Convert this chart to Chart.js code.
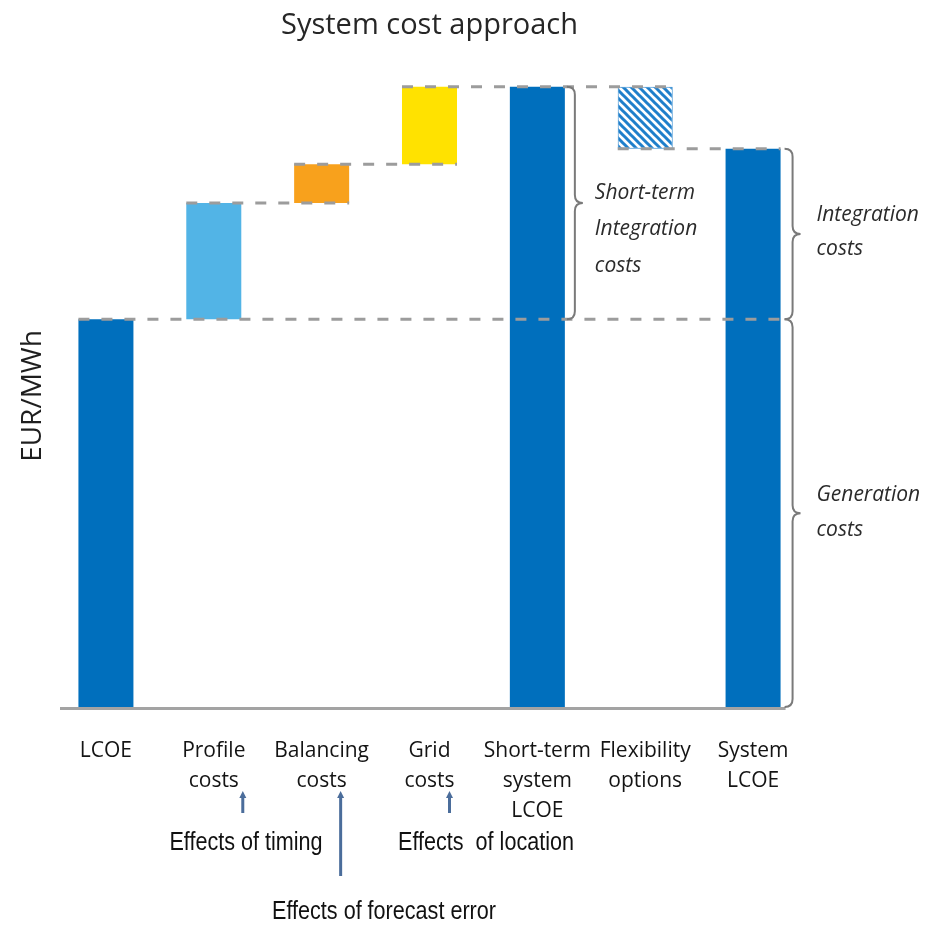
<!DOCTYPE html>
<html>
<head>
<meta charset="utf-8">
<script src="https://cdn.jsdelivr.net/npm/chart.js@4.4.1/dist/chart.umd.min.js"></script>
<style>
  html, body { margin: 0; padding: 0; background: #ffffff; }
  canvas { display: block; }
</style>
</head>
<body>
<canvas id="chart" width="932" height="925"></canvas>
<script>
// Waterfall steps, EUR/MWh (relative units, LCOE = 100)
const categories = [
  ['LCOE'],
  ['Profile', 'costs'],
  ['Balancing', 'costs'],
  ['Grid', 'costs'],
  ['Short-term', 'system', 'LCOE'],
  ['Flexibility', 'options'],
  ['System', 'LCOE']
];
const lowValues  = [0, 100, 130, 140, 0, 144, 0];
const highValues = [100, 130, 140, 160, 160, 160, 144];

// Dashed connectors: level and the bars they run between
const guideLines = [
  { value: highValues[0], from: 0, to: 6 },
  { value: highValues[1], from: 1, to: 2 },
  { value: highValues[2], from: 2, to: 3 },
  { value: highValues[3], from: 3, to: 5 },
  { value: lowValues[5],  from: 5, to: 6 }
];

const braceLabels = {
  shortTerm: ['Short-term', 'Integration', 'costs'],
  integration: ['Integration', 'costs'],
  generation: ['Generation', 'costs']
};
const effectLabels = ['Effects of timing', 'Effects of forecast error', 'Effects  of location'];

const BLUE = '#006fbd';

function hatchPattern() {
  const s = 8;
  const c = document.createElement('canvas');
  c.width = s; c.height = s;
  const g = c.getContext('2d');
  g.fillStyle = '#ffffff';
  g.fillRect(0, 0, s, s);
  g.strokeStyle = '#1f7fcb';
  g.lineWidth = 3;
  g.beginPath();
  g.moveTo(-2, -2); g.lineTo(s + 2, s + 2);
  g.moveTo(-s / 2 - 2, s / 2 - 2); g.lineTo(s / 2 + 2, s * 1.5 + 2);
  g.moveTo(s / 2 - 2, -s / 2 - 2); g.lineTo(s * 1.5 + 2, s / 2 + 2);
  g.stroke();
  return g.createPattern(c, 'repeat');
}

const barColors = [BLUE, '#52b4e6', '#f8a11c', '#ffe200', BLUE, hatchPattern(), BLUE];
const barBorders = [BLUE, '#52b4e6', '#f8a11c', '#ffe200', BLUE, '#2a86cf', BLUE];
const barBorderWidths = [0, 0, 0, 0, 0, 1, 0];

function drawBrace(ctx, x, yTop, yBot, r) {
  const mid = (yTop + yBot) / 2;
  ctx.beginPath();
  ctx.moveTo(x - r, yTop);
  ctx.quadraticCurveTo(x, yTop, x, yTop + r);
  ctx.lineTo(x, mid - r);
  ctx.quadraticCurveTo(x, mid, x + r, mid);
  ctx.quadraticCurveTo(x, mid, x, mid + r);
  ctx.lineTo(x, yBot - r);
  ctx.quadraticCurveTo(x, yBot, x - r, yBot);
  ctx.stroke();
}

function drawArrow(ctx, x, yTop, yBot) {
  ctx.save();
  ctx.strokeStyle = '#4b6d9b';
  ctx.fillStyle = '#4b6d9b';
  ctx.lineWidth = 3;
  ctx.beginPath();
  ctx.moveTo(x, yBot);
  ctx.lineTo(x, yTop + 5);
  ctx.stroke();
  ctx.beginPath();
  ctx.moveTo(x, yTop);
  ctx.lineTo(x - 3.5, yTop + 7);
  ctx.lineTo(x + 3.5, yTop + 7);
  ctx.closePath();
  ctx.fill();
  ctx.restore();
}

// Condensed sans text: regular face squeezed horizontally
function narrowText(ctx, text, cx, cy) {
  ctx.save();
  ctx.translate(cx, cy);
  ctx.scale(0.83, 1);
  ctx.fillText(text, 0, 0);
  ctx.restore();
}

const decorations = {
  id: 'decorations',
  beforeDatasetsDraw(chart) {
    const { ctx, chartArea } = chart;
    const bars = chart.getDatasetMeta(0).data;
    const last = bars[bars.length - 1];
    ctx.save();
    ctx.strokeStyle = '#a3a3a3';
    ctx.lineWidth = 3;
    ctx.beginPath();
    ctx.moveTo(chartArea.left + 8, chartArea.bottom + 1.5);
    ctx.lineTo(last.x + last.width / 2 + 5, chartArea.bottom + 1.5);
    ctx.stroke();
    ctx.restore();
  },
  afterDatasetsDraw(chart) {
    const { ctx } = chart;
    const y = chart.scales.y;
    const bars = chart.getDatasetMeta(0).data;
    ctx.save();
    ctx.strokeStyle = '#9c9c9c';
    ctx.lineWidth = 3;
    ctx.setLineDash([11, 12]);
    guideLines.forEach(g => {
      const a = bars[g.from], b = bars[g.to];
      const py = y.getPixelForValue(g.value);
      ctx.beginPath();
      ctx.moveTo(a.x - a.width / 2, py);
      ctx.lineTo(b.x + b.width / 2, py);
      ctx.stroke();
    });
    ctx.restore();
  },
  afterDraw(chart) {
    const { ctx } = chart;
    const y = chart.scales.y;
    const bars = chart.getDatasetMeta(0).data;
    const st = bars[4], sys = bars[6];

    // Braces
    ctx.save();
    ctx.strokeStyle = '#7a7a7a';
    ctx.lineWidth = 2;
    const b1x = st.x + st.width / 2 + 10;
    drawBrace(ctx, b1x, y.getPixelForValue(highValues[4]), y.getPixelForValue(highValues[0]), 8);
    const b2x = sys.x + sys.width / 2 + 12;
    drawBrace(ctx, b2x, y.getPixelForValue(highValues[6]), y.getPixelForValue(highValues[0]), 8);
    drawBrace(ctx, b2x, y.getPixelForValue(highValues[0]), y.getPixelForValue(lowValues[6]), 8);
    ctx.restore();

    // Brace labels
    ctx.save();
    ctx.fillStyle = '#2b2b2b';
    ctx.font = 'italic 21px "Open Sans"';
    ctx.textBaseline = 'middle';
    ctx.textAlign = 'left';
    braceLabels.shortTerm.forEach((t, i) => ctx.fillText(t, b1x + 20, 193 + i * 36.5));
    braceLabels.integration.forEach((t, i) => ctx.fillText(t, b2x + 24, 215 + i * 34));
    braceLabels.generation.forEach((t, i) => ctx.fillText(t, b2x + 24, 495 + i * 35));
    ctx.restore();

    // Vertical unit label
    ctx.save();
    ctx.fillStyle = '#1e1e1e';
    ctx.font = '28px "Open Sans"';
    ctx.textAlign = 'center';
    ctx.textBaseline = 'middle';
    ctx.translate(33, 396);
    ctx.rotate(-Math.PI / 2);
    ctx.fillText('EUR/MWh', 0, 0);
    ctx.restore();

    // Effect arrows and notes under the category labels
    const pr = bars[1], bal = bars[2], gr = bars[3];
    drawArrow(ctx, pr.x + 29, 791, 813);
    drawArrow(ctx, bal.x + 19, 791, 876);
    drawArrow(ctx, gr.x + 20, 791, 813);
    ctx.save();
    ctx.fillStyle = '#111111';
    ctx.font = '26px "Liberation Sans", Arial, sans-serif';
    ctx.textBaseline = 'middle';
    ctx.textAlign = 'center';
    narrowText(ctx, effectLabels[0], 246, 843);
    narrowText(ctx, effectLabels[1], 384, 912);
    narrowText(ctx, effectLabels[2], 486, 843);
    ctx.restore();
  }
};

new Chart(document.getElementById('chart'), {
  type: 'bar',
  data: {
    labels: categories,
    datasets: [{
      data: lowValues.map((lo, i) => [lo, highValues[i]]),
      backgroundColor: barColors,
      borderColor: barBorders,
      borderWidth: barBorderWidths,
      borderSkipped: false,
      categoryPercentage: 1,
      barPercentage: 0.51
    }]
  },
  options: {
    responsive: false,
    animation: false,
    devicePixelRatio: 1,
    layout: { padding: { left: 52, right: 125, top: 0, bottom: 0 } },
    plugins: {
      legend: { display: false },
      tooltip: { enabled: false },
      title: {
        display: true,
        text: 'System cost approach',
        color: '#262626',
        font: { family: '"Open Sans"', size: 29, weight: 'normal' },
        padding: { top: 8, bottom: 5.2 }
      }
    },
    scales: {
      x: {
        grid: { display: false },
        border: { display: false },
        ticks: {
          color: '#141414',
          font: { family: '"Open Sans"', size: 21, lineHeight: 1.43 },
          padding: 21,
          maxRotation: 0,
          autoSkip: false
        },
        afterFit(scale) { scale.height = 218; }
      },
      y: {
        display: false,
        min: 0,
        max: 170
      }
    }
  },
  plugins: [decorations]
});
</script>
</body>
</html>
